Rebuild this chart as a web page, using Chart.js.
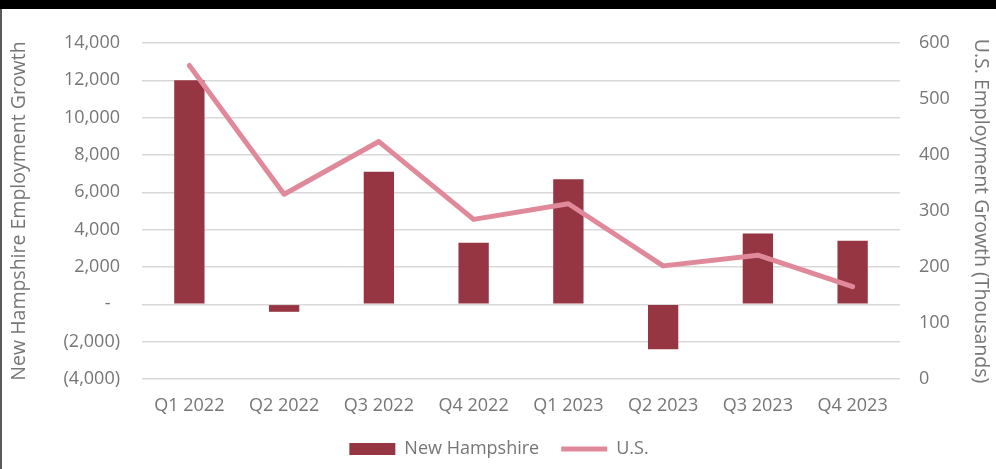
<!DOCTYPE html>
<html>
<head>
<meta charset="utf-8">
<title>Employment Growth</title>
<script src="https://cdn.jsdelivr.net/npm/chart.js@4.4.0/dist/chart.umd.min.js"></script>
<style>
    body { margin: 0; background: #fff; width: 996px; height: 469px; overflow: hidden; position: relative; }
    #topBar { position: absolute; left: 0; top: 0; width: 996px; height: 9px; background: #000; }
    #leftEdge { position: absolute; left: 0; top: 9px; width: 2px; height: 460px; background: #5a5a5a; }
    #wrap { position: absolute; left: 2px; top: 9px; width: 994px; height: 460px; }
</style>
</head>
<body>
<div id="topBar"></div>
<div id="leftEdge"></div>
<div id="wrap"><canvas id="chart" width="994" height="460"></canvas></div>
<script>
// Data
const quarters = ['Q1 2022', 'Q2 2022', 'Q3 2022', 'Q4 2022', 'Q1 2023', 'Q2 2023', 'Q3 2023', 'Q4 2023'];
const nhGrowth = [12000, -400, 7100, 3300, 6700, -2400, 3800, 3400];
const usGrowth = [560, 330, 424, 285, 313, 202, 221, 165];

const textGray = '#767676';
const fontFamily = "'Open Sans', sans-serif";

// Accounting style labels: 14,000 / - / (2,000)
const formatAccounting = (value) => {
    if (value === 0) return '-  ';
    const s = Math.abs(value).toLocaleString('en-US');
    return value < 0 ? '(' + s + ')' : s;
};

const ctx = document.getElementById('chart').getContext('2d');
new Chart(ctx, {
    data: {
        labels: quarters,
        datasets: [
            {
                type: 'bar',
                label: 'New Hampshire',
                data: nhGrowth,
                yAxisID: 'y',
                backgroundColor: '#963642',
                borderWidth: 0,
                pointStyle: 'rect',
                categoryPercentage: 0.32,
                barPercentage: 1,
                order: 2
            },
            {
                type: 'line',
                label: 'U.S.',
                data: usGrowth,
                yAxisID: 'y1',
                borderColor: '#e0899a',
                backgroundColor: '#e0899a',
                borderWidth: 5,
                borderCapStyle: 'round',
                borderJoinStyle: 'round',
                pointRadius: 0,
                pointStyle: 'line',
                tension: 0,
                fill: false,
                order: 1
            }
        ]
    },
    options: {
        responsive: false,
        animation: false,
        layout: { padding: { top: 34, right: 0, bottom: 1, left: 0 } },
        plugins: {
            tooltip: { enabled: false },
            legend: {
                position: 'bottom',
                labels: {
                    usePointStyle: true,
                    pointStyleWidth: 46,
                    boxHeight: 12,
                    padding: 22,
                    color: textGray,
                    font: { family: fontFamily, size: 18 },
                    sort: (a, b) => a.datasetIndex - b.datasetIndex
                }
            }
        },
        scales: {
            x: {
                grid: { display: false, drawTicks: false },
                border: { display: false },
                ticks: { color: textGray, font: { family: fontFamily, size: 18 }, padding: 16, maxRotation: 0 },
                afterFit: (scale) => { scale.height = 39; }
            },
            y: {
                position: 'left',
                min: -4000,
                max: 14000,
                grid: { color: '#d9d9d9', lineWidth: 1.5, drawTicks: false },
                border: { display: false },
                ticks: {
                    stepSize: 2000,
                    color: textGray,
                    font: { family: fontFamily, size: 18 },
                    padding: 22,
                    callback: (value) => formatAccounting(value)
                },
                title: {
                    display: true,
                    text: 'New Hampshire Employment Growth',
                    color: textGray,
                    font: { family: fontFamily, size: 19.5 },
                    padding: { top: 6, bottom: 0 }
                },
                afterFit: (scale) => { scale.width = 140; }
            },
            y1: {
                position: 'right',
                min: 0,
                max: 600,
                grid: { display: false, drawTicks: false },
                border: { display: false },
                ticks: {
                    stepSize: 100,
                    color: textGray,
                    font: { family: fontFamily, size: 18 },
                    padding: 19
                },
                title: {
                    display: true,
                    text: 'U.S. Employment Growth (Thousands)',
                    color: textGray,
                    font: { family: fontFamily, size: 19.5 },
                    padding: { top: 4, bottom: 0 }
                },
                afterFit: (scale) => { scale.width = 96; }
            }
        }
    }
});
</script>
</body>
</html>
